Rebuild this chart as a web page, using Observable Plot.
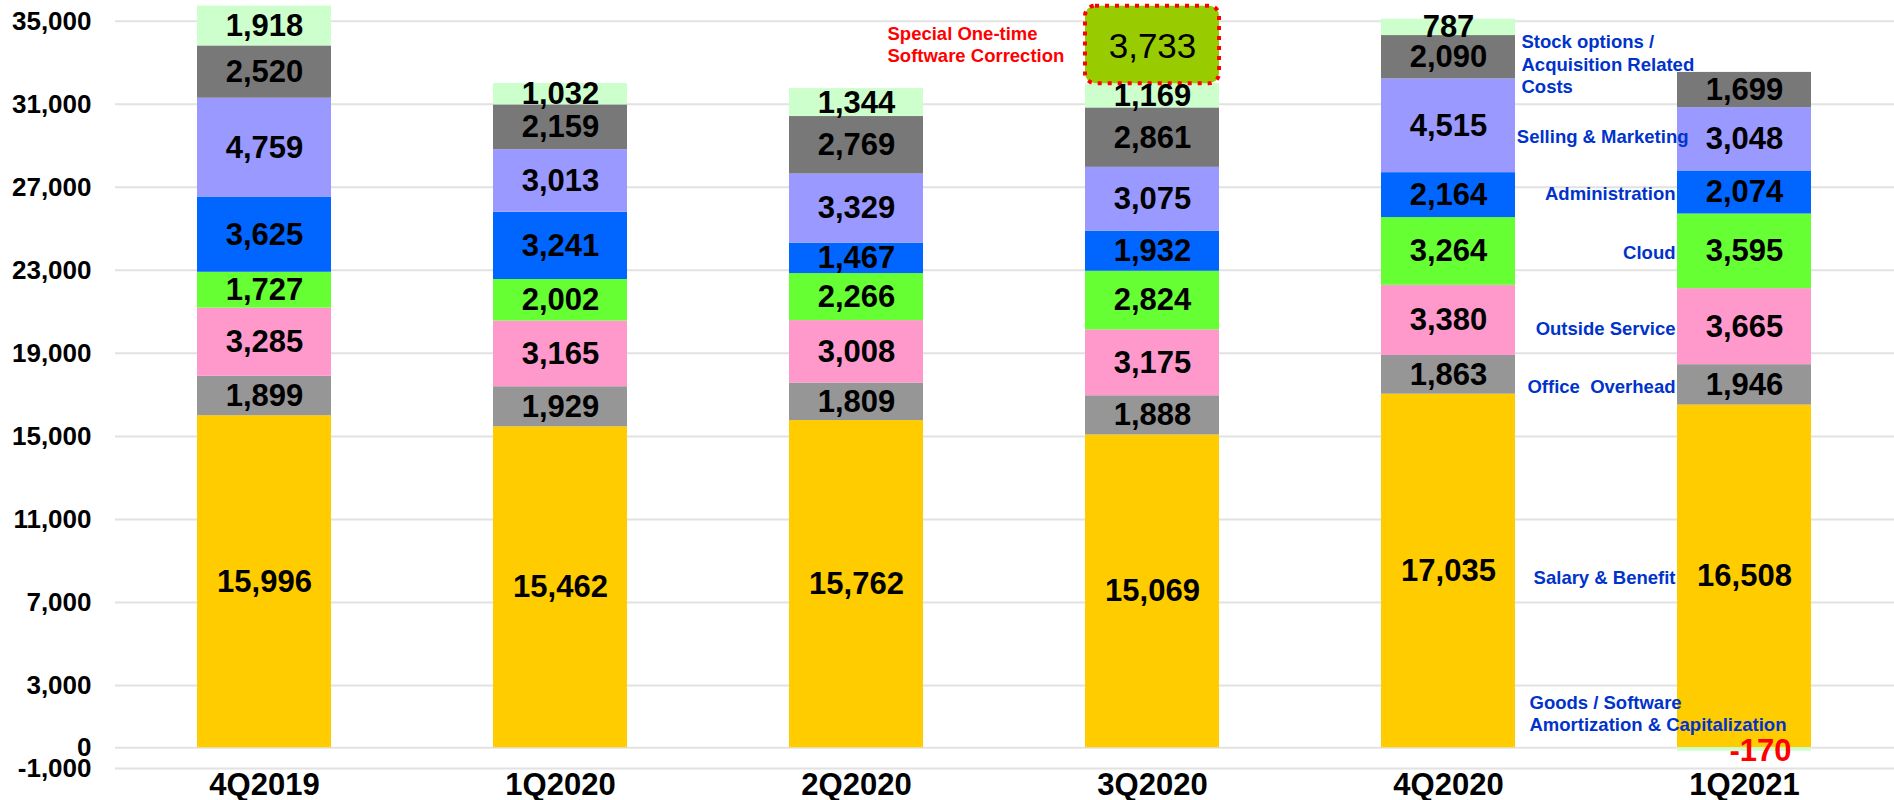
<!DOCTYPE html>
<html>
<head>
<meta charset="utf-8">
<script src="https://cdn.jsdelivr.net/npm/d3@7"></script>
<script src="https://cdn.jsdelivr.net/npm/@observablehq/plot@0.6"></script>
<style>
  body { margin: 0; background: #fff; }
  g[aria-label="special value"] text { letter-spacing: 2.5px; }
</style>
</head>
<body>
<div id="chart"></div>
<script>
// ---- Data ----
const quarters = ["4Q2019", "1Q2020", "2Q2020", "3Q2020", "4Q2020", "1Q2021"];

const seriesNames = [
  "Salary & Benefit",
  "Office Overhead",
  "Outside Service",
  "Cloud",
  "Administration",
  "Selling & Marketing",
  "Stock options / Acquisition Related Costs",
  "Goods / Software Amortization & Capitalization",
  "Special One-time Software Correction"
];

const seriesLabels = [
  "Salary & Benefit",
  "Office\u00a0 Overhead",
  "Outside Service",
  "Cloud",
  "Administration",
  "Selling & Marketing",
  "Stock options /\nAcquisition Related\nCosts",
  "Goods / Software\nAmortization & Capitalization",
  "Special One-time\nSoftware Correction"
];

const seriesColors = ["#FFCC00", "#969696", "#FF99CC", "#66FF33", "#0066FF", "#9999FF", "#787878", "#CCFFCC", "#99CC00"];

const salaryBenefit      = [15996, 15462, 15762, 15069, 17035, 16508];
const officeOverhead     = [1899, 1929, 1809, 1888, 1863, 1946];
const outsideService     = [3285, 3165, 3008, 3175, 3380, 3665];
const cloud              = [1727, 2002, 2266, 2824, 3264, 3595];
const administration     = [3625, 3241, 1467, 1932, 2164, 2074];
const sellingMarketing   = [4759, 3013, 3329, 3075, 4515, 3048];
const stockOptions       = [2520, 2159, 2769, 2861, 2090, 1699];
const goodsSoftware      = [1918, 1032, 1344, 1169, 787, -170];
const specialCorrection  = [null, null, null, 3733, null, null];

const yTicks = [-1000, 0, 3000, 7000, 11000, 15000, 19000, 23000, 27000, 31000, 35000];

// ---- Build table ----
const seriesValues = [salaryBenefit, officeOverhead, outsideService, cloud, administration,
  sellingMarketing, stockOptions, goodsSoftware, specialCorrection];
const rows = [];
seriesNames.forEach((s, i) => {
  seriesValues[i].forEach((v, j) => {
    if (v !== null) rows.push({quarter: quarters[j], series: s, label: seriesLabels[i], value: v});
  });
});

const SPECIAL = seriesNames[8];
const LAST = quarters[quarters.length - 1];
const fmt = v => d3.format(",")(v).replace("\u2212", "-");
const FONT = "'Liberation Sans', Arial, Helvetica, sans-serif";
const stackBase = {x: "quarter", y: "value", z: "series", order: null};

const blueRight = seriesNames.slice(0, 5);

const chart = Plot.plot({
  width: 1894,
  height: 800,
  marginTop: 0,
  marginBottom: 32,
  marginLeft: 115,
  marginRight: 0,
  style: {fontFamily: FONT, fontWeight: "bold", background: "white", color: "black"},
  x: {domain: quarters, paddingInner: 0.546, paddingOuter: 0.275, label: null},
  y: {domain: [-1000, 36000], label: null},
  color: {domain: seriesNames, range: seriesColors},
  marks: [
    Plot.ruleY(yTicks, {stroke: "#e2e2e2", strokeWidth: 2}),
    Plot.barY(rows, Plot.filter(d => d.series !== SPECIAL,
      Plot.stackY({...stackBase, fill: "series"}))),
    Plot.barY(rows, Plot.filter(d => d.series === SPECIAL,
      Plot.stackY({...stackBase, fill: "series", stroke: "#FF0000", strokeWidth: 4,
        strokeDasharray: "4,6", rx: 10}))),
    // value labels
    Plot.text(rows, Plot.filter(d => d.series !== SPECIAL && d.value >= 0,
      Plot.stackY({...stackBase, text: d => fmt(d.value), fontSize: 31, fontWeight: "bold", fill: "black"}))),
    Plot.text(rows, Plot.filter(d => d.value < 0,
      Plot.stackY({...stackBase, text: d => fmt(d.value), fontSize: 31, fontWeight: "bold", fill: "#FF0000", dx: 16, dy: 2}))),
    Plot.text(rows, Plot.filter(d => d.series === SPECIAL,
      Plot.stackY({...stackBase, text: d => fmt(d.value), fontSize: 35, fontWeight: "normal", fill: "black", dy: 2, ariaLabel: "special value"}))),
    // special annotation
    Plot.text(rows, Plot.filter(d => d.series === SPECIAL,
      Plot.stackY({...stackBase, text: "label", textAnchor: "start", dx: -265, dy: -1, lineHeight: 1.17,
        fontSize: 18.5, fontWeight: "bold", fill: "#FF0000"}))),
    // series names next to the last bar
    Plot.text(rows, Plot.filter(d => d.quarter === LAST && blueRight.includes(d.series),
      Plot.stackY({...stackBase, text: "label", textAnchor: "end", dx: -69, dy: 2,
        fontSize: 18.5, fontWeight: "bold", fill: "#0033CC"}))),
    Plot.text(rows, Plot.filter(d => d.quarter === LAST && d.series === seriesNames[5],
      Plot.stackY({...stackBase, text: "label", textAnchor: "end", dx: -56, dy: -2,
        fontSize: 18.5, fontWeight: "bold", fill: "#0033CC"}))),
    Plot.text(rows, Plot.filter(d => d.quarter === LAST && d.series === seriesNames[6],
      Plot.stackY({...stackBase, text: "label", textAnchor: "start", dx: -223, dy: -26.8, lineHeight: 1.227,
        fontSize: 18.5, fontWeight: "bold", fill: "#0033CC"}))),
    Plot.text(rows, Plot.filter(d => d.quarter === LAST && d.series === seriesNames[7],
      Plot.stackY({...stackBase, text: "label", textAnchor: "start", dx: -215, dy: -36.8, lineHeight: 1.2,
        fontSize: 18.5, fontWeight: "bold", fill: "#0033CC"}))),
    Plot.axisX({tickSize: 0, tickPadding: 4, fontSize: 31, fontWeight: "bold", label: null}),
    Plot.axisY({ticks: yTicks, tickFormat: fmt, tickSize: 0, tickPadding: 24, fontSize: 26, fontWeight: "bold", label: null})
  ]
});

document.getElementById("chart").appendChild(chart);
</script>
</body>
</html>
